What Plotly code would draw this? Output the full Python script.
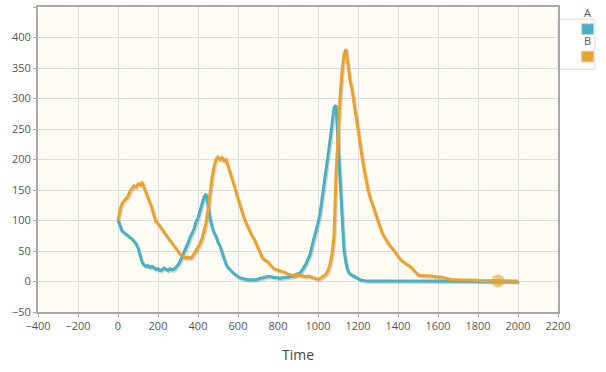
import plotly.graph_objects as go

# time samples (every 10 units)
time = list(range(0, 2001, 10))

series_names = ["A", "B"]
colors = ["#45B1C5", "#E9A22D"]

series_a = [
    100, 90, 83, 80, 78, 75, 72, 70, 66, 62,
    55, 44, 32, 27, 25, 26, 23, 25, 22, 20,
    21, 18, 19, 22, 20, 18, 21, 19, 20, 24,
    27, 33, 40, 48, 56, 63, 72, 79, 86, 98,
    104, 116, 126, 138, 144, 122, 104, 90, 80, 74,
    64, 58, 48, 38, 28, 23, 19, 16, 13, 10,
    8, 6, 5, 5, 4, 3, 3, 3, 2, 3,
    4, 5, 6, 6, 7, 8, 8, 7, 7, 6,
    6, 5, 6, 6, 7, 7, 8, 8, 10, 11,
    13, 14, 18, 23, 29, 37, 44, 58, 70, 82,
    96, 111, 135, 152, 178, 200, 231, 258, 285, 289,
    230, 150, 90, 51, 30, 17, 12, 10, 9, 6,
    4, 3, 2, 1, 1, 1, 1, 1, 1, 1,
    1, 1, 1, 1, 1, 1, 1, 1, 1, 1,
    1, 1, 1, 1, 1, 1, 1, 1, 1, 1,
    1, 1, 1, 1, 1, 1, 1, 1, 1, 1,
    1, 1, 1, 1, 1, 1, 1, 1, 1, 1,
    0.5, 0.5, 0.5, 0.5, 0.5, 0.5, 0.5, 0.5, 0.5, 0.5,
    0.5, 0.5, 0.5, 0.5, 0.5, 0.5, 0.5, 0.5, 0.5, 0.5,
    0.5, 0.5, 0.5, 0.5, 0.5, 0.5, 0.5, 0.5, 0.5, 0.5,
    0.5,
]

series_b = [
    100, 118, 128, 132, 137, 140, 148, 152, 157, 155,
    160, 158, 163, 154, 146, 136, 127, 120, 108, 98,
    95, 90, 86, 82, 77, 72, 67, 63, 58, 53,
    48, 45, 42, 40, 38, 40, 38, 40, 45, 50,
    55, 62, 70, 82, 96, 118, 145, 170, 188, 200,
    204, 200, 203, 198, 200, 190, 178, 168, 158, 146,
    135, 124, 114, 104, 96, 88, 80, 75, 70, 63,
    56, 48, 40, 36, 34, 32, 28, 24, 21, 20,
    19, 17, 16, 15, 14, 12, 11, 10, 10, 9,
    11, 10, 10, 9, 8, 9, 8, 7, 6, 5,
    4, 5, 7, 9, 12, 18, 28, 45, 75, 175,
    240, 300, 345, 372, 381, 355, 330, 315, 290, 270,
    250, 231, 205, 185, 165, 150, 138, 128, 118, 108,
    98, 89, 80, 74, 68, 62, 58, 55, 50, 45,
    40, 37, 34, 31, 29, 27, 25, 22, 18, 14,
    11, 10, 10, 9, 9, 9, 9, 9, 8, 8,
    8, 7, 7, 6, 5, 4, 4, 3, 3, 3,
    2, 2, 2, 2, 2, 2, 2, 2, 2, 2,
    1.5, 1.5, 1.5, 1.5, 1.5, 1.5, 1.5, 1.5, 1.5, 1.5,
    1, 1, 1, 1, 1, 1, 1, 1, 1, 1,
    0.5,
]

highlight_time = 1900

all_series = [series_a, series_b]

fig = go.Figure()

# soft drop shadow under each line
for values in all_series:
    fig.add_trace(go.Scatter(
        x=[t + 6 for t in time], y=[v - 2.5 for v in values],
        mode="lines", line=dict(color="rgba(0,0,0,0.16)", width=3),
        hoverinfo="skip", showlegend=False,
    ))

for name, values, c in zip(series_names, all_series, colors):
    fig.add_trace(go.Scatter(
        x=time, y=values, name=name, mode="lines",
        line=dict(color=c, width=3), showlegend=False,
    ))

# highlighted point on B
idx = time.index(highlight_time)
fig.add_trace(go.Scatter(
    x=[highlight_time], y=[series_b[idx]], mode="markers",
    marker=dict(color=colors[1], size=13, opacity=0.6),
    showlegend=False, hoverinfo="skip",
))

# hand-made legend box at the right
fig.add_shape(type="rect", xref="paper", yref="paper",
              x0=1.0, x1=1.071, y0=0.796, y1=0.96,
              line=dict(color="#dddddd", width=1), fillcolor="white", layer="below")
for i, (name, c) in enumerate(zip(series_names, colors)):
    top = 0.945 - i * 0.09
    fig.add_shape(type="rect", xref="paper", yref="paper",
                  x0=1.0456, x1=1.0685, y0=top - 0.035, y1=top,
                  line=dict(color="#cccccc", width=1), fillcolor=c)
    fig.add_annotation(xref="paper", yref="paper", x=1.046, y=top + 0.005,
                       text=name, showarrow=False, xanchor="left", yanchor="bottom",
                       font=dict(size=11, color="#555555", family="Open Sans"))

fig.update_layout(
    width=606, height=372,
    margin=dict(l=38, r=48, t=7, b=60, autoexpand=False),
    plot_bgcolor="#FFFCF3",
    paper_bgcolor="white",
    font=dict(family="Open Sans", color="#555555", size=11),
    xaxis=dict(
        range=[-400, 2200], dtick=200, tick0=0,
        showgrid=True, gridcolor="#dcdcdc", gridwidth=1,
        zeroline=False,
        showline=True, linecolor="#a8a8a8", linewidth=2, mirror=True,
        ticks="outside", ticklen=3, tickcolor="#a8a8a8",
        tickfont=dict(size=11, color="#555555"),
        title=dict(text="Time", font=dict(size=14, color="#444444"), standoff=18),
    ),
    yaxis=dict(
        range=[-50, 450], dtick=50, tick0=0,
        showgrid=True, gridcolor="#dcdcdc", gridwidth=1,
        zeroline=False,
        showline=True, linecolor="#a8a8a8", linewidth=2, mirror=True,
        ticks="outside", ticklen=3, tickcolor="#a8a8a8",
        tickfont=dict(size=11, color="#555555"),
    ),
)

# drop the browser's default page margin so the figure sits at the window corner
fig.write_html("out.html", config={"displayModeBar": False},
               post_script="document.body.style.margin='0';")
